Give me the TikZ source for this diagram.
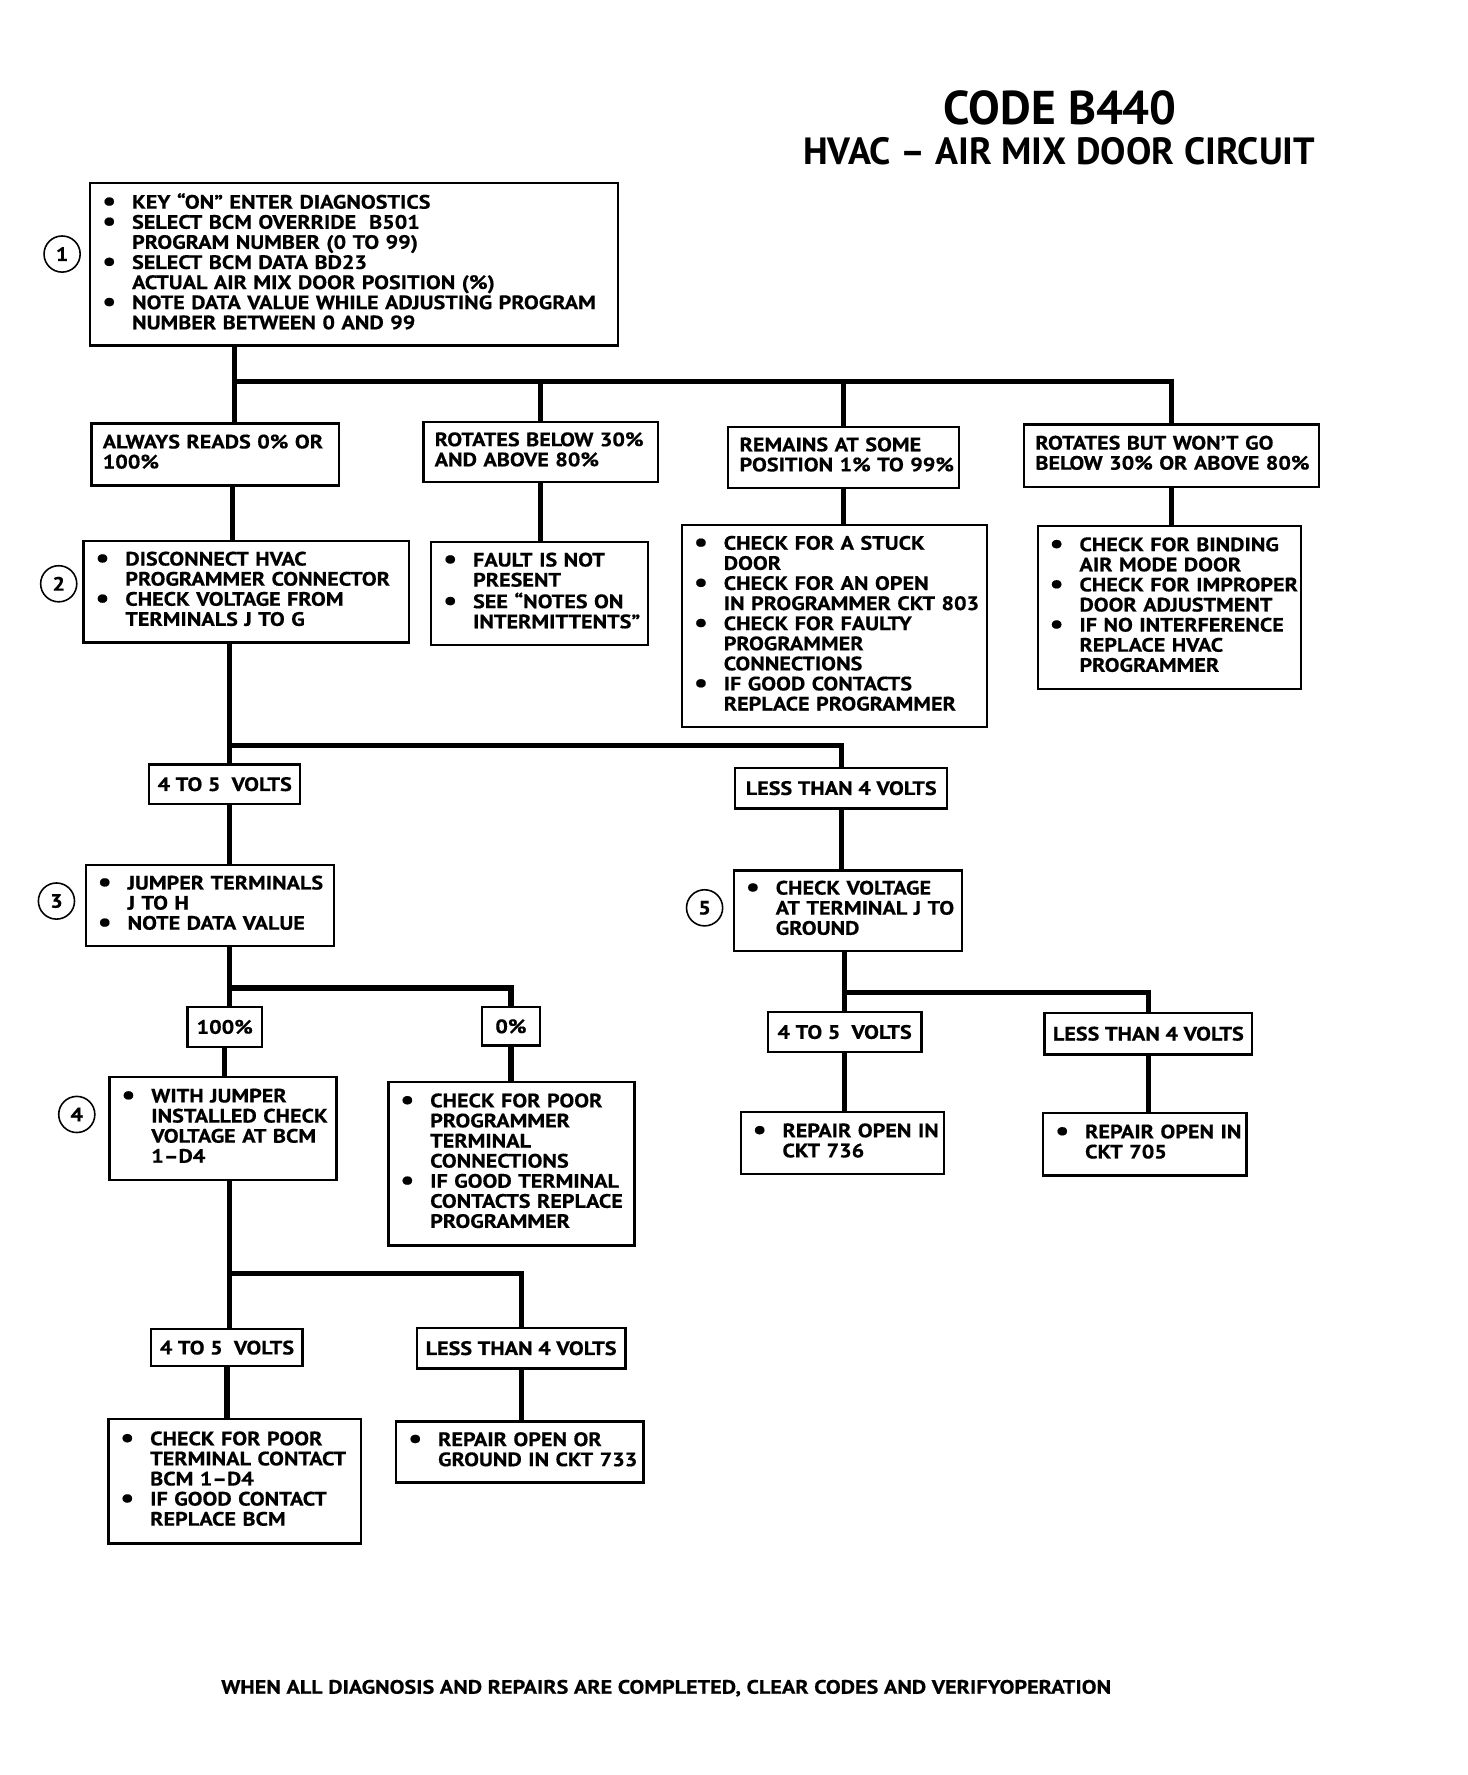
\documentclass[tikz,border=0pt]{standalone}
\usepackage{fontspec}
\setmainfont{PT Sans}[FakeStretch=1.14, BoldFeatures={FakeBold=0.5}]
\newfontfamily\titlefont{PT Sans}
\usetikzlibrary{calc}
\newcommand{\blist}[1]{\begin{tabular}{@{}p{13.5pt}@{}l@{}}#1\end{tabular}}
\newcommand{\plist}[1]{\begin{tabular}{@{}l@{}}#1\end{tabular}}
\newcommand{\bu}{\hspace*{0.3pt}\raisebox{-0.6pt}{\fontsize{12}{12}\selectfont\textbullet}}
\begin{document}
\begin{tikzpicture}[x=0.5pt,y=-0.5pt,
  txt/.style={font=\fontsize{8.6}{8.9}\selectfont\bfseries},
  box/.style={draw, line width=1pt, inner xsep=5pt, inner ysep=0pt, txt, align=left},
  lbl/.style={draw, line width=1pt, inner sep=0pt, txt, align=center},
  conn/.style={line width=2.3pt},
  num/.style={draw, circle, line width=0.7pt, minimum size=16pt, inner sep=0pt, txt}]
\useasboundingbox (0,0) rectangle (1300,1572);

% titles
\node[anchor=base, font=\titlefont\fontsize{21}{22}\selectfont\bfseries, inner sep=0pt] (t1) at (939,110) {CODE B440};
\node[anchor=base, font=\titlefont\fontsize{16.8}{17}\selectfont\bfseries, inner sep=0pt] (t2) at (938,146) {HVAC – AIR MIX DOOR CIRCUIT};

% step 1
\node[box, minimum height=72pt, text width=223.5pt] (b1) at (313.5,234) {\blist{%
\bu & KEY “ON” ENTER DIAGNOSTICS\\
\bu & SELECT BCM OVERRIDE \ B501\\
    & PROGRAM NUMBER (0 TO 99)\\
\bu & SELECT BCM DATA BD23\\
    & ACTUAL AIR MIX DOOR POSITION (\%)\\
\bu & NOTE DATA VALUE WHILE ADJUSTING PROGRAM\\
    & NUMBER BETWEEN 0 AND 99}};
\node[num] (c1) at (55,225) {1};

% first level
\node[box, minimum height=27.5pt, text width=99.5pt] (bA) at (190.5,402.5) {\plist{ALWAYS READS 0\% OR\\100\%}};
\node[box, minimum height=26.5pt, text width=94pt] (bB) at (479,400.5) {\plist{ROTATES BELOW 30\%\\AND ABOVE 80\%}};
\node[box, minimum height=27pt, text width=92pt] (bC) at (747,405) {\plist{REMAINS AT SOME\\POSITION 1\% TO 99\%}};
\node[box, minimum height=27.5pt, text width=120.5pt] (bD) at (1037.5,403.5) {\plist{ROTATES BUT WON’T GO\\BELOW 30\% OR ABOVE 80\%}};

% second level
\node[box, minimum height=45pt, text width=134pt] (b2) at (218,524) {\blist{%
\bu & DISCONNECT HVAC\\
    & PROGRAMMER CONNECTOR\\
\bu & CHECK VOLTAGE FROM\\
    & TERMINALS J TO G}};
\node[num] (c2) at (52,517) {2};
\node[box, minimum height=45.5pt, text width=86pt] (bB2) at (478,525.5) {\blist{%
\bu & FAULT IS NOT\\
    & PRESENT\\
\bu & SEE “NOTES ON\\
    & INTERMITTENTS”}};
\node[box, minimum height=89.5pt, text width=125pt] (bC2) at (739,554.5) {\blist{%
\bu & CHECK FOR A STUCK\\
    & DOOR\\
\bu & CHECK FOR AN OPEN\\
    & IN PROGRAMMER CKT 803\\
\bu & CHECK FOR FAULTY\\
    & PROGRAMMER\\
    & CONNECTIONS\\
\bu & IF GOOD CONTACTS\\
    & REPLACE PROGRAMMER}};
\node[box, minimum height=72pt, text width=106.5pt] (bD2) at (1035.5,538) {\blist{%
\bu & CHECK FOR BINDING\\
    & AIR MODE DOOR\\
\bu & CHECK FOR IMPROPER\\
    & DOOR ADJUSTMENT\\
\bu & IF NO INTERFERENCE\\
    & REPLACE HVAC\\
    & PROGRAMMER}};

% voltage labels after step 2
\node[lbl, minimum width=67pt, minimum height=17.5pt] (v1) at (199,694.5) {4 TO 5 \ VOLTS};
\node[lbl, minimum width=94pt, minimum height=18pt] (v2) at (745,698) {LESS THAN 4 VOLTS};

% step 3 and 5
\node[box, minimum height=36pt, text width=100pt] (b3) at (186,802) {\blist{%
\bu & JUMPER TERMINALS\\
    & J TO H\\
\bu & NOTE DATA VALUE}};
\node[num] (c3) at (50,798) {3};
\node[box, minimum height=35.5pt, text width=91pt] (b5) at (751,806.5) {\blist{%
\bu & CHECK VOLTAGE\\
    & AT TERMINAL J TO\\
    & GROUND}};
\node[num] (c5) at (624,804) {5};

% percent labels
\node[lbl, minimum width=33pt, minimum height=17.5pt] (p100) at (199,909.5) {100\%};
\node[lbl, minimum width=25.5pt, minimum height=17pt] (p0) at (452.5,909) {0\%};

% step 4 and 0% result
\node[box, minimum height=45.5pt, text width=90.5pt] (b4) at (197.5,999.5) {\blist{%
\bu & WITH JUMPER\\
    & INSTALLED CHECK\\
    & VOLTAGE AT BCM\\
    & 1–D4}};
\node[num] (c4) at (68,987) {4};
\node[box, minimum height=72.5pt, text width=99pt] (b0c) at (453,1030.5) {\blist{%
\bu & CHECK FOR POOR\\
    & PROGRAMMER\\
    & TERMINAL\\
    & CONNECTIONS\\
\bu & IF GOOD TERMINAL\\
    & CONTACTS REPLACE\\
    & PROGRAMMER}};

% voltages after step 4
\node[lbl, minimum width=67pt, minimum height=16.5pt] (v3) at (201,1193.5) {4 TO 5 \ VOLTS};
\node[lbl, minimum width=92.5pt, minimum height=18pt] (v4) at (461.5,1194) {LESS THAN 4 VOLTS};
\node[box, minimum height=55pt, text width=102pt] (b6) at (208,1312) {\blist{%
\bu & CHECK FOR POOR\\
    & TERMINAL CONTACT\\
    & BCM 1–D4\\
\bu & IF GOOD CONTACT\\
    & REPLACE BCM}};
\node[box, minimum height=27pt, text width=99.5pt] (b7) at (460.5,1286) {\blist{%
\bu & REPAIR OPEN OR\\
    & GROUND IN CKT 733}};

% voltages after step 5
\node[lbl, minimum width=68pt, minimum height=18pt] (v5) at (748,914) {4 TO 5 \ VOLTS};
\node[lbl, minimum width=92pt, minimum height=18.5pt] (v6) at (1017,915.5) {LESS THAN 4 VOLTS};
\node[box, minimum height=27.5pt, text width=80pt] (b8) at (746,1012.5) {\blist{%
\bu & REPAIR OPEN IN\\
    & CKT 736}};
\node[box, minimum height=27.5pt, text width=80pt] (b9) at (1014,1013.5) {\blist{%
\bu & REPAIR OPEN IN\\
    & CKT 705}};

% footer
\node[anchor=base, inner sep=0pt, font=\fontsize{8.6}{9}\selectfont\bfseries] (foot) at (590,1500) {WHEN ALL DIAGNOSIS AND REPAIRS ARE COMPLETED, CLEAR CODES AND VERIFYOPERATION};

% connectors
\coordinate (j1) at (208,338);
\coordinate (j2) at (206,450);
\coordinate (j3) at (203,660);
\coordinate (j4) at (203,875);
\coordinate (j5) at (203,1128);
\coordinate (j6) at (748,879);

\draw[conn] (j1 |- b1.south) -- (j1 |- bA.north);
\draw[conn] (j1) -| (bD.north);
\draw[conn] (j1 -| bB.north) -- (bB.north);
\draw[conn] (j1 -| bC.north) -- (bC.north);

\draw[conn] (j2 |- bA.south) -- (j2 |- b2.north);
\draw[conn] (bB.south) -- (bB.south |- bB2.north);
\draw[conn] (bC.south) -- (bC.south |- bC2.north);
\draw[conn] (bD.south) -- (bD.south |- bD2.north);

\draw[conn] (j3 |- b2.south) -- (j3 |- v1.north);
\draw[conn] (j3) -| (v2.north);
\draw[conn] (j3 |- v1.south) -- (j3 |- b3.north);
\draw[conn] (v2.south) -- (v2.south |- b5.north);

\draw[conn] (j4 |- b3.south) -- (j4 |- p100.north);
\draw[conn] (j4) -| (p0.north);
\draw[conn] (p100.south) -- (p100.south |- b4.north);
\draw[conn] (p0.south) -- (p0.south |- b0c.north);

\draw[conn] (j5 |- b4.south) -- (j5 |- v3.north);
\draw[conn] (j5) -| (v4.north);
\draw[conn] (v3.south) -- (v3.south |- b6.north);
\draw[conn] (v4.south) -- (v4.south |- b7.north);

\draw[conn] (j6 |- b5.south) -- (j6 |- v5.north);
\draw[conn] (j6) -| (v6.north);
\draw[conn] (v5.south) -- (v5.south |- b8.north);
\draw[conn] (v6.south) -- (v6.south |- b9.north);
\end{tikzpicture}
\end{document}
